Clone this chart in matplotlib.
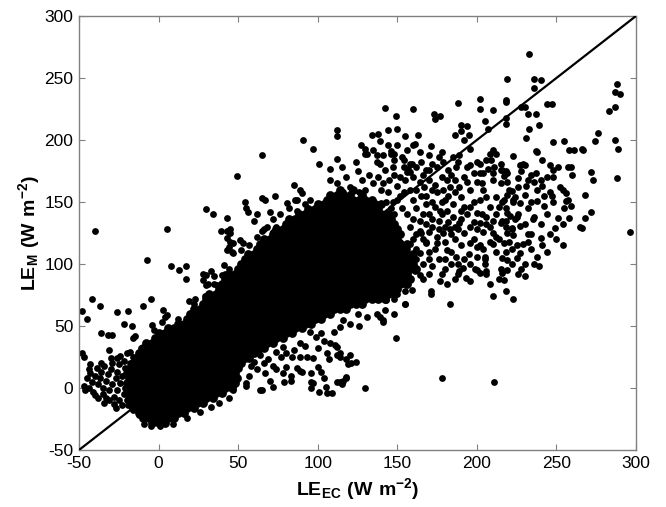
import numpy as np
import matplotlib
matplotlib.use("Agg")
import matplotlib.pyplot as plt

plt.rcParams['font.family'] = ['Liberation Sans', 'DejaVu Sans']
plt.rcParams['mathtext.fontset'] = 'custom'
plt.rcParams['mathtext.rm'] = 'Liberation Sans'
plt.rcParams['mathtext.bf'] = 'Liberation Sans:bold'
plt.rcParams['axes.unicode_minus'] = False

# --- values (LE_EC, LE_M), W m-2 ---

# solid central band, one list of LE_EC per LE_M level
core_m = [-28, -24, -20, -16, -12, -8, -4, 0, 4, 8, 12, 16, 20, 24, 28, 32,
          36, 40, 44, 48, 52, 56, 60, 64, 68, 72, 76, 80, 84, 88, 92, 96,
          100, 104, 108, 112, 116, 120, 124, 128, 132, 136, 140, 144, 148, 152,
          156, 160]
core_ec = [
    [-4, 0, 4],
    [-10, -6, -2, 2, 6, 10],
    [-12, -8, -4, 0, 4, 8, 12, 16],
    [-14, -10, -6, -2, 2, 6, 10, 14, 18, 22],
    [-16, -12, -8, -4, 0, 4, 8, 12, 16, 20, 24, 28],
    [-18, -14, -10, -6, -2, 2, 6, 10, 14, 18, 22, 26, 30, 34],
    [-20, -16, -12, -8, -4, 0, 4, 8, 12, 16, 20, 24, 28, 32, 36, 40],
    [-18, -14, -10, -6, -2, 2, 6, 10, 14, 18, 22, 26, 30, 34, 38, 42, 46],
    [-20, -16, -12, -8, -4, 0, 4, 8, 12, 16, 20, 24, 28, 32, 36, 40, 44, 48],
    [-18, -14, -10, -6, -2, 2, 6, 10, 14, 18, 22, 26, 30, 34, 38, 42, 46, 49],
    [-20, -16, -12, -8, -4, 0, 4, 8, 12, 16, 20, 24, 28, 32, 36, 40, 44, 48],
    [-18, -14, -10, -6, -2, 2, 6, 10, 14, 18, 22, 26, 30, 34, 38, 42, 46, 50],
    [-16, -12, -8, -4, 0, 4, 8, 12, 16, 20, 24, 28, 32, 36, 40, 44, 48, 52],
    [-14, -10, -6, -2, 2, 6, 10, 14, 18, 22, 26, 30, 34, 38, 42, 46, 50, 54, 57],
    [-12, -8, -4, 0, 4, 8, 12, 16, 20, 24, 28, 32, 36, 40, 44, 48, 52, 56, 60],
    [-10, -6, -2, 2, 6, 10, 14, 18, 22, 26, 30, 34, 38, 42, 46, 50, 54, 58, 62, 66],
    [-8, -4, 0, 4, 8, 12, 16, 20, 24, 28, 32, 36, 40, 44, 48, 52, 56, 60, 64, 68, 72],
    [-2, 2, 6, 10, 14, 18, 22, 26, 30, 34, 38, 42, 46, 50, 54, 58, 62, 66, 70, 74, 78],
    [0, 4, 8, 12, 16, 20, 24, 28, 32, 36, 40, 44, 48, 52, 56, 60, 64, 68, 72, 76, 80, 84],
    [6, 10, 14, 18, 22, 26, 30, 34, 38, 42, 46, 50, 54, 58, 62, 66, 70, 74, 78, 82, 86, 90],
    [12, 16, 20, 24, 28, 32, 36, 40, 44, 48, 52, 56, 60, 64, 68, 72, 76, 80, 84, 88, 92, 96],
    [18, 22, 26, 30, 34, 38, 42, 46, 50, 54, 58, 62, 66, 70, 74, 78, 82, 86, 90, 94, 98, 102],
    [20, 24, 28, 32, 36, 40, 44, 48, 52, 56, 60, 64, 68, 72, 76, 80, 84, 88, 92, 96, 100, 104, 108],
    [22, 26, 30, 34, 38, 42, 46, 50, 54, 58, 62, 66, 70, 74, 78, 82, 86, 90, 94, 98, 102, 106, 110,
     114, 118],
    [28, 32, 36, 40, 44, 48, 52, 56, 60, 64, 68, 72, 76, 80, 84, 88, 92, 96, 100, 104, 108, 112,
     116, 120, 124, 128],
    [30, 34, 38, 42, 46, 50, 54, 58, 62, 66, 70, 74, 78, 82, 86, 90, 94, 98, 102, 106, 110, 114,
     118, 122, 126, 130, 134, 138, 142],
    [32, 36, 40, 44, 48, 52, 56, 60, 64, 68, 72, 76, 80, 84, 88, 92, 96, 100, 104, 108, 112, 116,
     120, 124, 128, 132, 136, 140, 144, 148],
    [38, 42, 46, 50, 54, 58, 62, 66, 70, 74, 78, 82, 86, 90, 94, 98, 102, 106, 110, 114, 118, 122,
     126, 130, 134, 138, 142, 146, 150],
    [40, 44, 48, 52, 56, 60, 64, 68, 72, 76, 80, 84, 88, 92, 96, 100, 104, 108, 112, 116, 120, 124,
     128, 132, 136, 140, 144, 148, 152, 156],
    [42, 46, 50, 54, 58, 62, 66, 70, 74, 78, 82, 86, 90, 94, 98, 102, 106, 110, 114, 118, 122, 126,
     130, 134, 138, 142, 146, 150, 154, 158],
    [44, 48, 52, 56, 60, 64, 68, 72, 76, 80, 84, 88, 92, 96, 100, 104, 108, 112, 116, 120, 124, 128,
     132, 136, 140, 144, 148, 152, 156],
    [50, 54, 58, 62, 66, 70, 74, 78, 82, 86, 90, 94, 98, 102, 106, 110, 114, 118, 122, 126, 130, 134,
     138, 142, 146, 150, 154, 158, 162],
    [52, 56, 60, 64, 68, 72, 76, 80, 84, 88, 92, 96, 100, 104, 108, 112, 116, 120, 124, 128, 132, 136,
     140, 144, 148, 152, 156, 160],
    [54, 58, 62, 66, 70, 74, 78, 82, 86, 90, 94, 98, 102, 106, 110, 114, 118, 122, 126, 130, 134, 138,
     142, 146, 150, 154, 158],
    [56, 60, 64, 68, 72, 76, 80, 84, 88, 92, 96, 100, 104, 108, 112, 116, 120, 124, 128, 132, 136, 140,
     144, 148, 152, 156, 160],
    [62, 66, 70, 74, 78, 82, 86, 90, 94, 98, 102, 106, 110, 114, 118, 122, 126, 130, 134, 138, 142,
     146, 150, 154],
    [64, 68, 72, 76, 80, 84, 88, 92, 96, 100, 104, 108, 112, 116, 120, 124, 128, 132, 136, 140, 144,
     148, 152, 156],
    [66, 70, 74, 78, 82, 86, 90, 94, 98, 102, 106, 110, 114, 118, 122, 126, 130, 134, 138, 142, 146,
     150],
    [72, 76, 80, 84, 88, 92, 96, 100, 104, 108, 112, 116, 120, 124, 128, 132, 136, 140, 144, 148, 152],
    [74, 78, 82, 86, 90, 94, 98, 102, 106, 110, 114, 118, 122, 126, 130, 134, 138, 142, 146, 150],
    [80, 84, 88, 92, 96, 100, 104, 108, 112, 116, 120, 124, 128, 132, 136, 140, 144, 148],
    [82, 86, 90, 94, 98, 102, 106, 110, 114, 118, 122, 126, 130, 134, 138, 142, 146],
    [88, 92, 96, 100, 104, 108, 112, 116, 120, 124, 128, 132, 136, 140, 144],
    [94, 98, 102, 106, 110, 114, 118, 122, 126, 130, 134, 138],
    [100, 104, 108, 112, 116, 120, 124, 128, 132, 136, 140],
    [106, 110, 114, 118, 122, 126, 130, 134],
    [108, 112, 116, 120, 128],
    [114, 122],
]

# lower-left tail
tail = [(-47, 2), (-45, 8), (-44, 0), (-43, 12), (-42, 5), (-41, -3), (-40, 10),
        (-39, 16), (-38, -8), (-38, 3), (-37, 8), (-36, 13), (-35, 0), (-35, -5),
        (-34, 18), (-33, 6), (-32, 11), (-31, -2), (-31, -10), (-30, 15), (-29, 3),
        (-29, 20), (-28, -7), (-28, -13), (-27, 8), (-26, 13), (-26, -2), (-25, 19),
        (-25, -10), (-24, 4), (-23, -14), (-23, 10), (-22, 22), (-22, -5), (-21, 16),
        (-21, 0), (-20, -10), (-19, 8), (-18, 20), (-18, -2), (-44, 15), (-46, -2),
        (-40, -6), (-33, -8), (-36, 20), (-30, 24), (-26, 24), (-24, 26), (-20, 28),
        (-19, -14), (-17, -16), (-34, -12), (-27, -16)]

# scattered points above the band and along its bottom edge
left_outliers = [
    (-40, 127), (-7, 103), (5, 128), (8, 98), (13, 95), (17, 98), (17, 88), (-42, 72),
    (-48, 62), (-45, 56), (-37, 66), (-26, 61), (-19, 62), (-22, 52), (-17, 50),
    (-10, 66), (-5, 72), (-36, 44), (-32, 43), (-29, 43), (-31, 31), (-15, 42),
    (-16, 40), (-4, 51), (-3, 47), (3, 63), (5, 59), (12, 56), (13, 52), (-48, 28),
    (-47, 25), (-43, 19), (-11, 32), (-18, 29), (-16, 25), (19, 70), (30, 91), (30, 83),
    (35, 84), (37, 83), (41, 99), (42, 92), (46, 91), (46, 110), (29, 74), (36, 71),
    (22, 68), (23, 72), (4, 57), (2, 53), (28, 92), (33, 94), (30, 144), (34, 140),
    (43, 137), (43, 127), (43, 121), (39, 127), (45, 128), (45, 125), (45, 118),
    (43, 111), (47, 109), (49, 171), (54, 150), (55, 145), (56, 142), (65, 153),
    (67, 152), (73, 155), (85, 164), (81, 149), (82, 145), (87, 152), (87, 143),
    (65, 188), (66, 128), (72, 136), (86, 152), (91, 200), (97, 193), (101, 181),
    (108, 177), (108, 168), (89, 160), (90, 157), (98, 145), (51, 119), (53, 117),
    (52, 111), (57, 104), (44, 96), (40, 91), (35, 90), (28, 87), (31, 84), (57, 115),
    (62, 122), (65, 127), (68, 130), (72, 126), (74, 130), (77, 127), (80, 129),
    (47, 117), (44, 114), (76, 140), (70, 142), (95, 152), (92, 148), (60, 135),
    (62, 140), (-5, -31), (-9, -29), (1, -31), (9, -29), (18, -24), (26, -19),
    (33, -15), (38, -12), (44, -8), (-12, -22), (-16, -18)]

# sparse arm below the band
lower_arm = [
    (55, 25), (60, 21), (62, 15), (57, 10), (55, 4), (64, -2), (67, 12), (70, 6),
    (72, 1), (74, 15), (72, 18), (78, 12), (83, 6), (80, 17), (84, 25), (87, 16),
    (90, 13), (89, 25), (93, 25), (96, 12), (97, 24), (100, 17), (102, 13), (97, 4),
    (96, 0), (104, 8), (106, 28), (107, 23), (108, 36), (111, 35), (112, 27),
    (114, 5), (116, 6), (118, 9), (114, 25), (118, 23), (120, 27), (121, 20),
    (124, 21), (109, -4), (105, 1), (130, 0), (99, 41), (102, 44), (89, 36),
    (85, 31), (77, 25), (78, 33), (74, 29), (69, 23), (64, 27), (63, 31), (114, 28),
    (119, 19), (118, 8), (115, 3), (112, 5), (149, 40), (120, 52), (114, 49),
    (112, 33), (47, -2), (55, 2), (65, -2), (79, 5), (83, 10), (89, 14), (96, 5),
    (101, -3), (106, -4), (141, 55), (142, 63), (137, 60), (148, 60), (155, 68),
    (139, 57), (141, 53), (143, 71), (135, 74), (126, 50), (131, 57), (58, 18),
    (66, 20), (80, 28), (92, 34), (100, 32), (104, 38), (95, 45), (110, 45),
    (116, 55), (125, 60), (178, 8), (211, 5), (183, 68)]

# semi-dense cloud right of and above the band
right_cloud = [
    (154, 84), (146, 86), (150, 90), (148, 96), (152, 100), (156, 94), (160, 98),
    (145, 104), (150, 108), (158, 106), (162, 104), (146, 80), (150, 76), (144, 78),
    (155, 78), (148, 72), (159, 79), (161, 94), (164, 91), (166, 88), (171, 78),
    (171, 76), (177, 86), (180, 96), (181, 84), (188, 92), (191, 97), (193, 89),
    (199, 96), (202, 93), (206, 94), (205, 104), (210, 74), (218, 78), (223, 72),
    (216, 93), (216, 105), (239, 98), (238, 106), (244, 110), (155, 68),
    (131, 189), (135, 192), (137, 182), (141, 188), (146, 191), (148, 184),
    (153, 186), (158, 181), (156, 174), (165, 182), (168, 176), (175, 178),
    (179, 182), (185, 186), (189, 188), (187, 178), (196, 180), (200, 182),
    (198, 173), (204, 173), (203, 165), (210, 168), (215, 165), (219, 166),
    (220, 160), (223, 152), (227, 149), (225, 138), (217, 152), (212, 154),
    (206, 154), (202, 152), (196, 160), (189, 162), (183, 162), (179, 160),
    (172, 160), (167, 162), (164, 166), (160, 170), (181, 168), (190, 154),
    (196, 146), (200, 141), (206, 138), (202, 133), (196, 130), (189, 133),
    (185, 138), (181, 143), (177, 143), (219, 141), (215, 133), (210, 135),
    (212, 122), (217, 117), (225, 115), (227, 109), (219, 103), (205, 106),
    (200, 114), (196, 117), (206, 92), (200, 95), (189, 94), (219, 95), (217, 87),
    (187, 106), (181, 111), (175, 117), (179, 125), (168, 117), (164, 127),
    (164, 109), (160, 103), (156, 95),
    (142, 226), (160, 225), (188, 230), (202, 233), (202, 225), (210, 224),
    (218, 231), (149, 219), (173, 221), (177, 219), (174, 217), (190, 212),
    (194, 211), (190, 207), (195, 204), (205, 215), (207, 209), (218, 213),
    (134, 204), (138, 205), (139, 199), (144, 208), (150, 209), (155, 203),
    (160, 196), (163, 204), (161, 197), (186, 204), (192, 200), (196, 193),
    (171, 195), (178, 190), (172, 181), (210, 192), (212, 189), (209, 184),
    (211, 178), (215, 176), (219, 173), (210, 173), (223, 187), (112, 208),
    (112, 203), (127, 196), (130, 193), (130, 189), (137, 188), (139, 181),
    (146, 189), (148, 189), (154, 184), (159, 181), (154, 178), (157, 177),
    (112, 185), (115, 178), (118, 170), (112, 165), (120, 162), (125, 175),
    (128, 168), (124, 182), (132, 172), (135, 165), (130, 160), (138, 170),
    (142, 176), (145, 168), (140, 160), (148, 172), (150, 163), (144, 158),
    (116, 158), (126, 158), (152, 155), (155, 168), (158, 160), (160, 152),
    (147, 150), (153, 145), (156, 140), (148, 140), (162, 145), (165, 155),
    (168, 148), (170, 140), (164, 135), (158, 130), (165, 125), (172, 130),
    (175, 122), (168, 118), (162, 112), (170, 110), (176, 104), (172, 98),
    (166, 100), (180, 118), (183, 128), (186, 120), (184, 110), (190, 115),
    (192, 125), (195, 108), (188, 100), (198, 120), (200, 128), (185, 148),
    (190, 143), (178, 150), (175, 158), (182, 155),
    (203, 140), (206, 132), (210, 125), (214, 146), (218, 135), (222, 128),
    (226, 140), (230, 132), (212, 110), (208, 118), (220, 118), (225, 105),
    (232, 124), (236, 138), (205, 100), (215, 96), (222, 112), (230, 100),
    (234, 112), (202, 115),
    (233, 269), (219, 249), (236, 249), (240, 248), (236, 242), (218, 232),
    (218, 218), (228, 227), (230, 227), (232, 221), (237, 221), (244, 229),
    (247, 229), (239, 212), (233, 209), (231, 202), (237, 191), (238, 190),
    (241, 184), (227, 180), (230, 180), (216, 176), (217, 171), (219, 156),
    (216, 150), (218, 145), (216, 135), (218, 130), (226, 169), (232, 168),
    (231, 163), (236, 166), (238, 160), (241, 163), (242, 155), (246, 180),
    (251, 178), (246, 158), (247, 155), (222, 159), (224, 154), (223, 150),
    (221, 139), (224, 136), (227, 131), (222, 129), (219, 125), (223, 123),
    (235, 136), (238, 151), (242, 147), (232, 145), (234, 124), (240, 121),
    (229, 116), (241, 115), (202, 181), (202, 173), (206, 184), (207, 177),
    (208, 189), (215, 181), (218, 175), (229, 181), (228, 175), (237, 173),
    (240, 168)]

# extra points in the busy part of the cloud (x 140-250, y 85-200)
busy_cloud = [
    (143, 150), (146, 145), (150, 152), (154, 158), (141, 165), (147, 178),
    (152, 170), (158, 174), (162, 178), (166, 172), (170, 168), (174, 164),
    (178, 170), (182, 176), (186, 168), (192, 170), (194, 178), (188, 182),
    (176, 186), (170, 188), (164, 190), (156, 192), (150, 196), (144, 196),
    (168, 155), (172, 150), (176, 135), (180, 130), (184, 124), (188, 128),
    (190, 136), (194, 140), (198, 134), (204, 126), (208, 130), (212, 140),
    (208, 146), (204, 160), (200, 166), (194, 166), (186, 158), (180, 152),
    (174, 146), (170, 126), (166, 120), (160, 120), (156, 112), (152, 118),
    (160, 136), (162, 124), (170, 104), (174, 112), (180, 104), (184, 100),
    (192, 104), (196, 100), (200, 106), (204, 112), (210, 116), (214, 120),
    (218, 110), (222, 100), (226, 92), (230, 90), (214, 88), (208, 84),
    (196, 86), (186, 88), (178, 92), (170, 92), (158, 116), (234, 150),
    (230, 156), (226, 162), (234, 172), (244, 170), (248, 150), (244, 140),
    (240, 132), (246, 124), (250, 120), (236, 100), (228, 96), (232, 118),
    (166, 140), (172, 136), (178, 140), (182, 134), (186, 130), (192, 146),
    (198, 150), (176, 128), (168, 132), (162, 160), (170, 176), (184, 172)]

# far right, sparse
far_right = [
    (248, 198), (255, 199), (258, 192), (261, 192), (266, 193), (267, 192),
    (272, 174), (273, 168), (268, 156), (272, 142), (266, 129), (249, 129),
    (254, 115), (255, 145), (258, 137), (257, 178), (259, 178), (260, 172),
    (256, 157), (257, 152), (252, 162), (254, 160), (248, 176), (276, 206),
    (274, 199), (287, 200), (289, 193), (288, 169), (296, 126), (288, 245),
    (287, 239), (290, 237), (287, 227), (283, 223), (265, 130), (268, 137),
    (251, 137), (254, 132), (248, 170), (259, 147), (256, 151)]

ticks = [-50, 0, 50, 100, 150, 200, 250, 300]
one_to_one = [-50, 300]

# build the point arrays
core_x, core_y = [], []
for m, row in zip(core_m, core_ec):
    core_x.extend(row)
    core_y.extend([m] * len(row))

le_ec, le_m = [], []
for group in (tail, left_outliers, lower_arm, right_cloud, busy_cloud, far_right):
    le_ec.extend(p[0] for p in group)
    le_m.extend(p[1] for p in group)
le_ec = np.array(le_ec, dtype=float)
le_m = np.array(le_m, dtype=float)

fig = plt.figure(figsize=(6.66, 5.07), dpi=100)
ax = fig.add_axes([79 / 666, 57 / 507, 557 / 666, 434 / 507])

# the dense band is drawn with slightly fatter dots so it reads as solid
ax.scatter(core_x, core_y, s=40, c='black', linewidths=0, zorder=2)
ax.scatter(le_ec, le_m, s=24, c='black', linewidths=0, zorder=2)
ax.plot(one_to_one, one_to_one, color='black', lw=1.6, zorder=3)

ax.set_xlim(-50, 300)
ax.set_ylim(-50, 300)
ax.set_xticks(ticks)
ax.set_yticks(ticks)
ax.tick_params(direction='in', top=True, right=True, length=4, width=0.8,
               color='#808080', labelsize=12.5, pad=4)
for sp in ax.spines.values():
    sp.set_color('#808080')
    sp.set_linewidth(1.0)

ax.set_xlabel(r'$\mathbf{LE_{EC}\ (W\ m^{-2})}$', fontsize=14, labelpad=4)
ax.set_ylabel(r'$\mathbf{LE_{M}\ (W\ m^{-2})}$', fontsize=14, labelpad=2)

fig.savefig('out.png', dpi=100)
